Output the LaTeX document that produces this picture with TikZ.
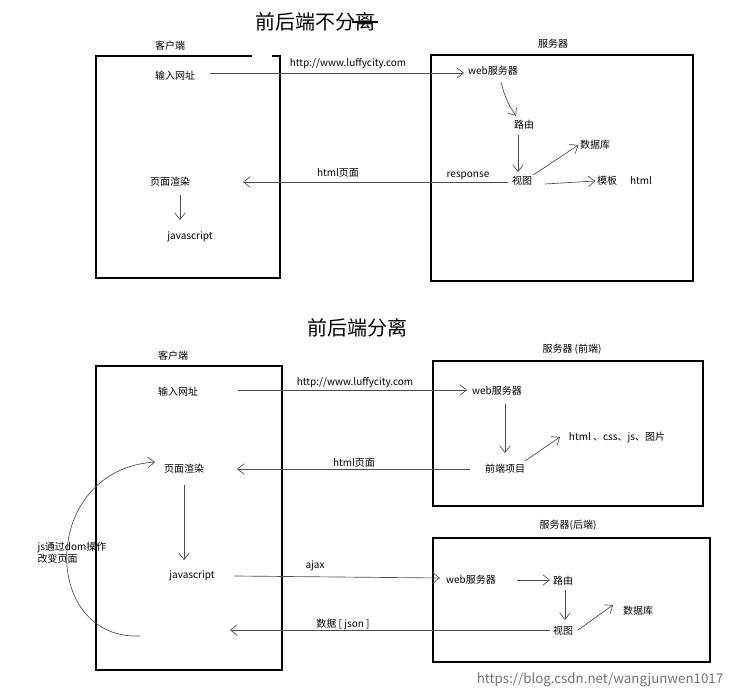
\documentclass[tikz,border=0pt]{standalone}
\usepackage{fontspec}
\setmainfont{Noto Sans CJK SC}
\usetikzlibrary{arrows.meta}
\begin{document}
\begin{tikzpicture}[x=0.75pt,y=-0.75pt,
 t/.style={font=\fontsize{7.5}{9}\selectfont,inner sep=1pt},
 ttl/.style={font=\fontsize{15}{17}\selectfont},
 box/.style={draw,line width=2.2pt},
 ar/.style={draw=black!70,line width=0.5pt,-{Straight Barb[length=5pt,width=8pt]}}]
\useasboundingbox[fill=white] (0,0) rectangle (747,698);
% ---- top
\node[ttl] (t1) at (315,22) {前后端不分离};
\draw[line width=1.2pt] (t1.east) ++(-28,0) -- ++(26,0);
\node[t] (c1) at (170,46) {客户端};
\draw[box] (252,56) -- (96,56) -- (96,278) -- (280,278) -- (280,56) -- (272,56);
\node[t] (s1) at (553,44) {服务器};
\draw[box] (431,55) rectangle (693,281);
\node[t] (in1) at (175,76) {输入网址};
\node[t] (url1) at (348,64) {http://www.luffycity.com};
\node[t] (web1) at (493,71) {web服务器};
\node[t] (lu1) at (524,125) {路由};
\node[t] (db1) at (595,145) {数据库};
\node[t] (v1) at (522,181) {视图};
\node[t] (mb) at (607,181) {模板};
\node[t] (ht) at (641,181) {html};
\node[t] (hp1) at (338,173) {html页面};
\node[t] (rs) at (468,176) {response};
\node[t] (r1) at (170,182) {页面渲染};
\node[t] (js1) at (190,237) {javascript};
\coordinate (a1) at (210,73); \coordinate (a2) at (464,73);
\coordinate (b1) at (508,182); \coordinate (b2) at (243,182);
\draw[ar] (a1) -- (a2);
\draw[ar] (501,82) to[bend right=10] (516,116);
\draw[ar] (518,135) -- (518,172);
\draw[ar] (v1.north east) -- (db1.west);
\draw[ar] (545,184) -- (mb.west);
\draw[ar] (b1) -- (b2);
\draw[ar] (180,195) -- (180,220);
% ---- bottom
\node[ttl] (t2) at (357,328) {前后端分离};
\node[t] (c2) at (173,356) {客户端};
\draw[box] (96,366) rectangle (282,670);
\node[t] (s2) at (572,349) {服务器 (前端)};
\draw[box] (433,361) rectangle (703,506);
\node[t] (s3) at (568,525) {服务器(后端)};
\draw[box] (433,538) rectangle (710,662);
\node[t] (in2) at (178,392) {输入网址};
\node[t] (url2) at (355,383) {http://www.luffycity.com};
\node[t] (web2) at (497,391) {web服务器};
\node[t] (fe) at (505,469) {前端项目};
\node[t] (hc) at (617,438) {html 、css、js、图片};
\node[t] (hp2) at (354,463) {html页面};
\node[t] (r2) at (184,469) {页面渲染};
\node[t] (js2) at (192,576) {javascript};
\node[t] (aj) at (315,566) {ajax};
\node[t] (web3) at (471,580) {web服务器};
\node[t] (lu3) at (563,581) {路由};
\node[t] (v3) at (563,631) {视图};
\node[t] (db3) at (638,611) {数据库};
\node[t] (dj) at (343,625) {数据 [ json ]};
\node[t,align=left] (jsd) at (72,553) {js通过dom操作\\改变页面};
\node[font=\fontsize{10}{12}\selectfont,text=black!55] (wm) at (600,680) {https://blog.csdn.net/wangjunwen1017};
\draw[ar] (238,390) -- (467,390);
\draw[ar] (505,404) -- (505,453);
\draw[ar] (525,461) -- (560,437);
\draw[ar] (470,469) -- (237,469);
\draw[ar] (184,485) -- (184,560);
\draw[ar] (234,576) -- (440,578);
\draw[ar] (517,580) -- (550,580);
\draw[ar] (565,590) -- (565,620);
\draw[ar] (578,630) -- (613,605);
\draw[ar] (550,630) -- (230,630);
\draw[ar] (140,636) .. controls (40,640) and (40,470) .. (155,462);
\end{tikzpicture}
\end{document}
